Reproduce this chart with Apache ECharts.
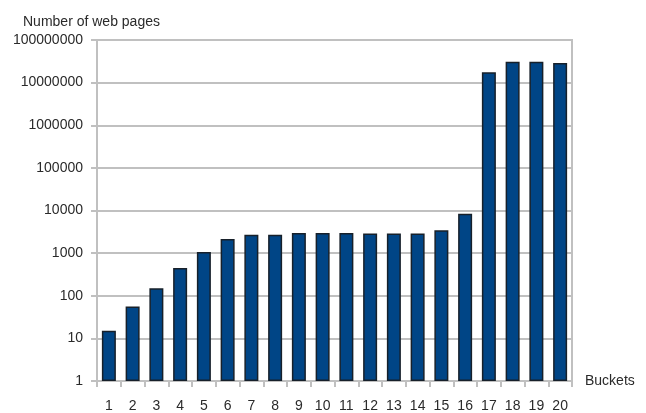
<!DOCTYPE html>
<html>
<head>
<meta charset="utf-8">
<script src="https://cdn.jsdelivr.net/npm/echarts@6/dist/echarts.min.js"></script>
<style>
  html, body { margin: 0; padding: 0; background: #fff; }
  #chart { width: 646px; height: 413px; }
</style>
</head>
<body>
<div id="chart"></div>
<script>
// Web pages per bucket (log scale)
const buckets = ['1','2','3','4','5','6','7','8','9','10','11','12','13','14','15','16','17','18','19','20'];
const pageCounts = [15, 56, 150, 450, 1060, 2150, 2700, 2700, 2950, 2950,
                    2950, 2900, 2900, 2900, 3450, 8400, 17500000, 31000000, 31000000, 29000000];
const yTitle = 'Number of web pages';
const xTitle = 'Buckets';

const FONT = '"Liberation Sans", Arial, sans-serif';
const GRID_GREY = '#c0c0c0';
const TEXT = '#2a2a2a';

const chart = echarts.init(document.getElementById('chart'), null, { renderer: 'canvas' });
chart.setOption({
  animation: false,
  backgroundColor: '#fff',
  title: {
    text: yTitle,
    left: 18,
    top: 10,
    textStyle: { fontFamily: FONT, fontSize: 14, fontWeight: 'normal', color: TEXT }
  },
  grid: {
    left: 97, right: 74, top: 40, bottom: 30,
    show: true, borderColor: GRID_GREY, borderWidth: 2
  },
  xAxis: {
    type: 'category',
    data: buckets,
    name: xTitle,
    nameLocation: 'end',
    nameGap: 13,
    nameTextStyle: { fontFamily: FONT, fontSize: 14, color: TEXT, padding: [16, 0, 0, 0] },
    axisLine: { lineStyle: { color: GRID_GREY, width: 2 } },
    axisTick: { show: true, alignWithLabel: false, length: 6, lineStyle: { color: GRID_GREY, width: 2 } },
    axisLabel: { fontFamily: FONT, fontSize: 14, color: TEXT, margin: 18, interval: 0 }
  },
  yAxis: {
    type: 'log',
    logBase: 10,
    min: 1,
    max: 100000000,
    axisLine: { show: true, lineStyle: { color: GRID_GREY, width: 2 } },
    axisTick: { show: true, length: 6, lineStyle: { color: GRID_GREY, width: 2 } },
    splitLine: { show: true, lineStyle: { color: GRID_GREY, width: 2 } },
    axisLabel: {
      fontFamily: FONT, fontSize: 14, color: TEXT, margin: 14,
      formatter: v => String(Math.round(v))
    }
  },
  series: [{
    type: 'bar',
    data: pageCounts,
    barWidth: 14,
    itemStyle: {
      color: '#004586',
      borderColor: '#17202a',
      borderWidth: 1.5
    }
  }]
});
</script>
</body>
</html>
